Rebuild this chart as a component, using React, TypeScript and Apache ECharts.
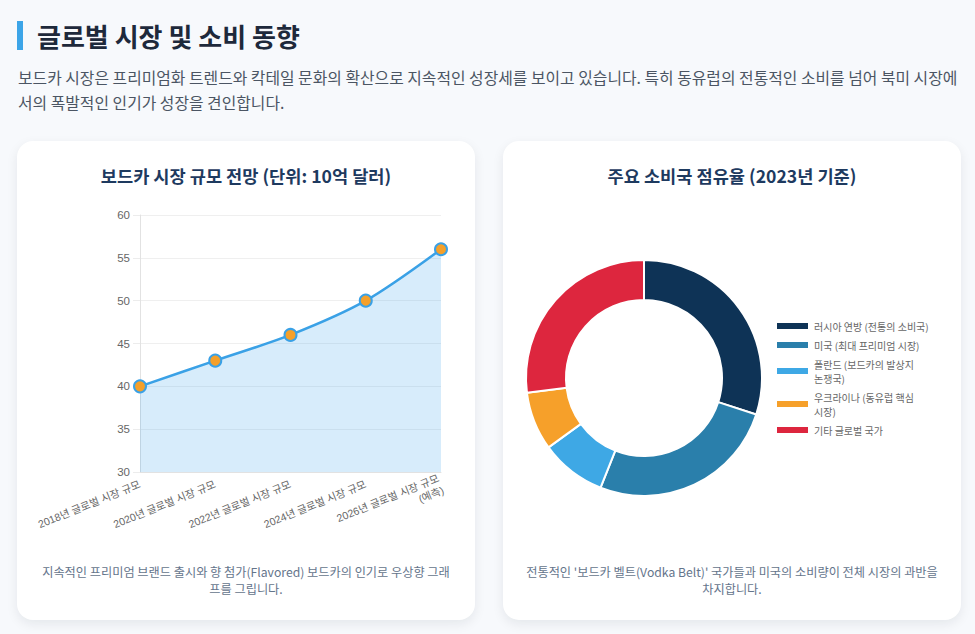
import React, { useEffect, useRef } from "react";
import * as echarts from "echarts";

const marketYears = [
  "2018년 글로벌 시장 규모",
  "2020년 글로벌 시장 규모",
  "2022년 글로벌 시장 규모",
  "2024년 글로벌 시장 규모",
  "2026년 글로벌 시장 규모\n(예측)",
];
const marketSize = [40, 43, 46, 50, 56];
const yMin = 30;
const yMax = 60;
const yStep = 5;

const shareNames = [
  "러시아 연방 (전통의 소비국)",
  "미국 (최대 프리미엄 시장)",
  "폴란드 (보드카의 발상지 논쟁국)",
  "우크라이나 (동유럽 핵심 시장)",
  "기타 글로벌 국가",
];
const shareLegendText = [
  "러시아 연방 (전통의 소비국)",
  "미국 (최대 프리미엄 시장)",
  "폴란드 (보드카의 발상지\n논쟁국)",
  "우크라이나 (동유럽 핵심\n시장)",
  "기타 글로벌 국가",
];
const shareValues = [30, 26, 9, 8, 27];
const shareColors = ["#0e3356", "#2a7fab", "#3ea8e5", "#f6a02a", "#dd263e"];

const FONT = "'Noto Sans CJK KR', 'Noto Sans', sans-serif";
const CHART_FONT = "'Liberation Sans', 'Noto Sans CJK KR', sans-serif";

function LineChart() {
  const ref = useRef<HTMLDivElement>(null);
  useEffect(() => {
    const chart = echarts.init(ref.current!, null, { renderer: "svg" });
    chart.setOption({
      animation: false,
      grid: { left: 123, right: 34, top: 74, bottom: 148 },
      xAxis: {
        type: "category",
        boundaryGap: false,
        data: marketYears,
        axisLine: { show: true, lineStyle: { color: "#e2e2e2" } },
        axisTick: { show: false },
        splitLine: { show: false },
        axisLabel: {
          rotate: 22,
          margin: 12,
          fontSize: 10.5,
          color: "#666",
          fontFamily: CHART_FONT,
          lineHeight: 13,
          interval: 0,
        },
      },
      yAxis: {
        type: "value",
        min: yMin,
        max: yMax,
        interval: yStep,
        axisLine: { show: true, lineStyle: { color: "#e2e2e2" } },
        axisTick: { show: true, length: 7, lineStyle: { color: "#ececec" } },
        splitLine: { show: true, lineStyle: { color: "#efefef" } },
        axisLabel: { fontSize: 11.5, color: "#666", fontFamily: CHART_FONT, margin: 10 },
      },
      series: [
        {
          type: "line",
          data: marketSize,
          smooth: 0.3,
          symbol: "circle",
          symbolSize: 12,
          lineStyle: { color: "#3aa1e6", width: 2.5 },
          itemStyle: { color: "#f5a02a", borderColor: "#3aa1e6", borderWidth: 2 },
          areaStyle: { color: "rgba(54,162,235,0.2)", opacity: 1 },
        },
      ],
    });
    return () => chart.dispose();
  }, []);
  return <div ref={ref} style={{ position: "absolute", left: 0, top: 0, width: 458, height: 479 }} />;
}

function PieChart() {
  const ref = useRef<HTMLDivElement>(null);
  useEffect(() => {
    const chart = echarts.init(ref.current!, null, { renderer: "svg" });
    const wrap: Record<string, string> = {};
    shareNames.forEach((n, i) => (wrap[n] = shareLegendText[i]));
    chart.setOption({
      animation: false,
      color: shareColors,
      legend: {
        orient: "vertical",
        left: 272,
        top: 178,
        padding: 0,
        itemWidth: 33,
        itemHeight: 8,
        itemGap: 5,
        icon: "rect",
        data: shareNames,
        formatter: (name: string) => wrap[name] ?? name,
        textStyle: { fontSize: 10, color: "#666", fontFamily: FONT, lineHeight: 14 },
      },
      series: [
        {
          type: "pie",
          center: [141, 237],
          radius: [78, 118],
          startAngle: 90,
          clockwise: true,
          label: { show: false },
          labelLine: { show: false },
          itemStyle: { borderColor: "#fff", borderWidth: 2 },
          data: shareNames.map((n, i) => ({ name: n, value: shareValues[i] })),
        },
      ],
    });
    return () => chart.dispose();
  }, []);
  return <div ref={ref} style={{ position: "absolute", left: 0, top: 0, width: 458, height: 479 }} />;
}

const cardStyle: React.CSSProperties = {
  position: "absolute",
  top: 141,
  width: 458,
  height: 479,
  background: "#fff",
  borderRadius: 16,
  boxShadow: "0 4px 12px rgba(15,23,42,0.08)",
  overflow: "hidden",
};
const cardTitle: React.CSSProperties = {
  position: "absolute",
  left: 0,
  right: 0,
  top: 23,
  textAlign: "center",
  fontSize: 17.6,
  fontWeight: 700,
  lineHeight: "24px",
  color: "#1e3a5f",
  zIndex: 2,
  whiteSpace: "nowrap",
};
const caption: React.CSSProperties = {
  position: "absolute",
  left: 0,
  right: 0,
  top: 423,
  textAlign: "center",
  fontSize: 12.2,
  lineHeight: "17px",
  color: "#64748b",
  zIndex: 2,
  whiteSpace: "nowrap",
};

export default function App() {
  return (
    <div
      style={{
        position: "fixed",
        left: 0,
        top: 0,
        width: 975,
        height: 634,
        background: "#f7f9fc",
        fontFamily: FONT,
        overflow: "hidden",
      }}
    >
      <div style={{ position: "absolute", left: 17, top: 21, width: 6, height: 29, background: "#3ca5e8" }} />
      <div
        style={{
          position: "absolute",
          left: 37,
          top: 19,
          fontSize: 26,
          lineHeight: "34px",
          fontWeight: 700,
          color: "#1e293b",
          whiteSpace: "nowrap",
        }}
      >
        글로벌 시장 및 소비 동향
      </div>
      <div
        style={{
          position: "absolute",
          left: 18,
          top: 65,
          fontSize: 15.85,
          lineHeight: "25px",
          color: "#4b5563",
          whiteSpace: "nowrap",
        }}
      >
        보드카 시장은 프리미엄화 트렌드와 칵테일 문화의 확산으로 지속적인 성장세를 보이고 있습니다. 특히 동유럽의 전통적인 소비를 넘어 북미 시장에
        <br />
        서의 폭발적인 인기가 성장을 견인합니다.
      </div>

      <div style={{ ...cardStyle, left: 17 }}>
        <div style={cardTitle}>보드카 시장 규모 전망 (단위: 10억 달러)</div>
        <LineChart />
        <div style={caption}>
          지속적인 프리미엄 브랜드 출시와 향 첨가(Flavored) 보드카의 인기로 우상향 그래
          <br />
          프를 그립니다.
        </div>
      </div>

      <div style={{ ...cardStyle, left: 503 }}>
        <div style={cardTitle}>주요 소비국 점유율 (2023년 기준)</div>
        <PieChart />
        <div style={caption}>
          전통적인 '보드카 벨트(Vodka Belt)' 국가들과 미국의 소비량이 전체 시장의 과반을
          <br />
          차지합니다.
        </div>
      </div>
    </div>
  );
}
